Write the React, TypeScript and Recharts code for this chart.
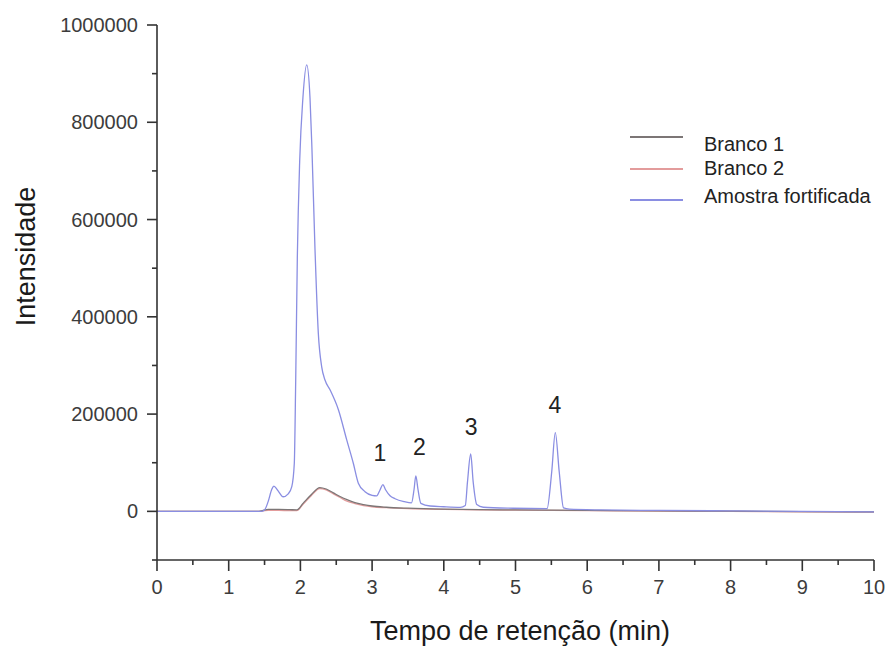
import { LineChart, Line, XAxis, YAxis, ReferenceDot } from 'recharts';

// Retention times (min) and intensities
const BLANK_TIMES = [
  0, 1.4, 1.48, 1.55, 1.7, 1.85, 1.95, 2.04, 2.15, 2.27, 2.36, 2.46, 2.56, 2.65,
  2.76, 2.88, 3.0, 3.2, 3.5, 4.0, 4.5, 5.0, 6.0, 7.0, 8.0, 9.0, 10.0,
];
const BRANCO_1 = [
  0, 0, 2000, 4000, 4000, 3500, 3000, 17000, 34000, 49000, 46000, 38000, 30000, 24000,
  18000, 14000, 11000, 8500, 6500, 4500, 3500, 3000, 2000, 1000, 500, -500, -1000,
];
const BRANCO_2 = [
  0, 0, 1000, 2000, 2000, 1500, 1500, 15000, 32000, 47000, 44000, 36000, 28000, 21000,
  16000, 12000, 9500, 7500, 5500, 4000, 3000, 2500, 1500, 500, 0, -1000, -1500,
];

const SAMPLE_TIMES = [
  0, 1.0, 1.45, 1.5, 1.55, 1.6, 1.63, 1.68, 1.76, 1.83, 1.88, 1.915, 1.934, 1.957,
  1.99, 2.035, 2.088, 2.134, 2.16, 2.204, 2.25, 2.297, 2.343, 2.413, 2.53, 2.646,
  2.738, 2.808, 2.901, 3.0, 3.064, 3.11, 3.15, 3.19, 3.25, 3.32, 3.45, 3.55, 3.585,
  3.61, 3.64, 3.68, 3.81, 4.0, 4.23, 4.3, 4.33, 4.375, 4.41, 4.46, 4.55, 4.97, 5.44,
  5.505, 5.555, 5.61, 5.67, 5.75, 6.18, 7.0, 8.0, 9.0, 10.0,
];
const AMOSTRA = [
  0, 0, 0, 3000, 20000, 45000, 52000, 44000, 30000, 36000, 51000, 99000, 264000, 520000,
  720000, 850000, 918000, 850000, 750000, 537000, 366000, 297000, 270000, 250000, 209000, 147000,
  99000, 58000, 40500, 33000, 32000, 44000, 55000, 44000, 32000, 26000, 20000, 17500, 45000,
  73000, 45000, 16500, 11000, 9500, 8400, 12000, 60000, 118000, 60000, 14000, 8500, 6400, 5500,
  81000, 162000, 81000, 7000, 4500, 3000, 2000, 1000, 0, -1000,
];

const PEAK_NAMES = ['1', '2', '3', '4'];
const PEAK_LABEL_TIMES = [3.11, 3.66, 4.38, 5.55];
const PEAK_LABEL_LEVELS = [121000, 132000, 173000, 220000];

const X_TICKS = [0, 0.5, 1, 1.5, 2, 2.5, 3, 3.5, 4, 4.5, 5, 5.5, 6, 6.5, 7, 7.5, 8, 8.5, 9, 9.5, 10];
const Y_TICKS = [-100000, 0, 100000, 200000, 300000, 400000, 500000, 600000, 700000, 800000, 900000, 1000000];

const SERIES_NAMES = ['Branco 1', 'Branco 2', 'Amostra fortificada'];
const SERIES_COLORS = ['#7c7676', '#e39c9c', '#8a8ee2'];

const blank1 = BLANK_TIMES.map((t, i) => ({ t, v: BRANCO_1[i] }));
const blank2 = BLANK_TIMES.map((t, i) => ({ t, v: BRANCO_2[i] }));
const sample = SAMPLE_TIMES.map((t, i) => ({ t, v: AMOSTRA[i] }));

const FONT = "'Liberation Sans', Arial, sans-serif";
const AXIS = '#333';
const TICK_TEXT = '#3c3c3c';

// legend: swatch rows are evenly spaced, the texts sit a little irregularly
const LEGEND_LINE_TOPS = [136, 168, 199];
const LEGEND_TEXT_MIDS = [144, 168, 196];

function XTick({ x, y, payload }: any) {
  const major = Number.isInteger(payload.value);
  return (
    <g>
      <line x1={x} x2={x} y1={y} y2={y + (major ? 11 : 5)} stroke={AXIS} strokeWidth={1.6} />
      {major && (
        <text x={x} y={y + 34} textAnchor="middle" fontSize={20} fill={TICK_TEXT} fontFamily={FONT}>
          {payload.value}
        </text>
      )}
    </g>
  );
}

function YTick({ x, y, payload }: any) {
  const major = payload.value % 200000 === 0;
  return (
    <g>
      <line x1={x - (major ? 10 : 5)} x2={x} y1={y} y2={y} stroke={AXIS} strokeWidth={1.6} />
      {major && (
        <text x={x - 19} y={y + 7} textAnchor="end" fontSize={20} fill={TICK_TEXT} fontFamily={FONT}>
          {payload.value}
        </text>
      )}
    </g>
  );
}

export default function App() {
  return (
    <div style={{
      position: 'absolute', left: 0, top: 0, width: 888, height: 646,
      background: '#fff', fontFamily: FONT, overflow: 'hidden',
    }}>
      <LineChart width={888} height={646} margin={{ top: 25, right: 14, bottom: 46, left: 57 }}>
        <XAxis
          type="number"
          dataKey="t"
          domain={[0, 10]}
          ticks={X_TICKS}
          interval={0}
          height={40}
          tickSize={0}
          tickMargin={0}
          tickLine={false}
          axisLine={{ stroke: AXIS, strokeWidth: 1.6 }}
          tick={<XTick />}
        />
        <YAxis
          type="number"
          domain={[-100000, 1000000]}
          ticks={Y_TICKS}
          interval={0}
          width={100}
          tickSize={0}
          tickMargin={0}
          tickLine={false}
          axisLine={{ stroke: AXIS, strokeWidth: 1.6 }}
          tick={<YTick />}
        />
        <Line data={blank2} dataKey="v" name={SERIES_NAMES[1]} type="monotone" dot={false}
          stroke={SERIES_COLORS[1]} strokeWidth={1.3} isAnimationActive={false} />
        <Line data={blank1} dataKey="v" name={SERIES_NAMES[0]} type="monotone" dot={false}
          stroke={SERIES_COLORS[0]} strokeWidth={1.3} isAnimationActive={false} />
        <Line data={sample} dataKey="v" name={SERIES_NAMES[2]} type="monotone" dot={false}
          stroke={SERIES_COLORS[2]} strokeWidth={1.3} isAnimationActive={false} />
        {PEAK_NAMES.map((name, i) => (
          <ReferenceDot
            key={name}
            x={PEAK_LABEL_TIMES[i]}
            y={PEAK_LABEL_LEVELS[i]}
            r={0}
            fill="none"
            stroke="none"
            label={{ value: name, position: 'center', fontSize: 23, fill: '#222', fontFamily: FONT }}
          />
        ))}
      </LineChart>

      {/* Legend */}
      {SERIES_NAMES.map((name, i) => (
        <div key={name}>
          <span style={{
            position: 'absolute', left: 630, top: LEGEND_LINE_TOPS[i], width: 53, height: 1.6,
            background: SERIES_COLORS[i],
          }} />
          <span style={{
            position: 'absolute', left: 704, top: LEGEND_TEXT_MIDS[i] - 11,
            fontSize: 20, lineHeight: '22px', color: '#222', whiteSpace: 'nowrap',
          }}>
            {name}
          </span>
        </div>
      ))}

      {/* Axis titles */}
      <div style={{
        position: 'absolute', left: 220, width: 600, top: 618, textAlign: 'center',
        fontSize: 27, lineHeight: '27px', color: '#1a1a1a',
      }}>
        Tempo de retenção (min)
      </div>
      <div style={{
        position: 'absolute', left: 25.5 - 100, top: 256 - 13.5, width: 200, height: 27,
        textAlign: 'center', fontSize: 27, lineHeight: '27px', color: '#1a1a1a',
        transform: 'rotate(-90deg)',
      }}>
        Intensidade
      </div>
    </div>
  );
}
